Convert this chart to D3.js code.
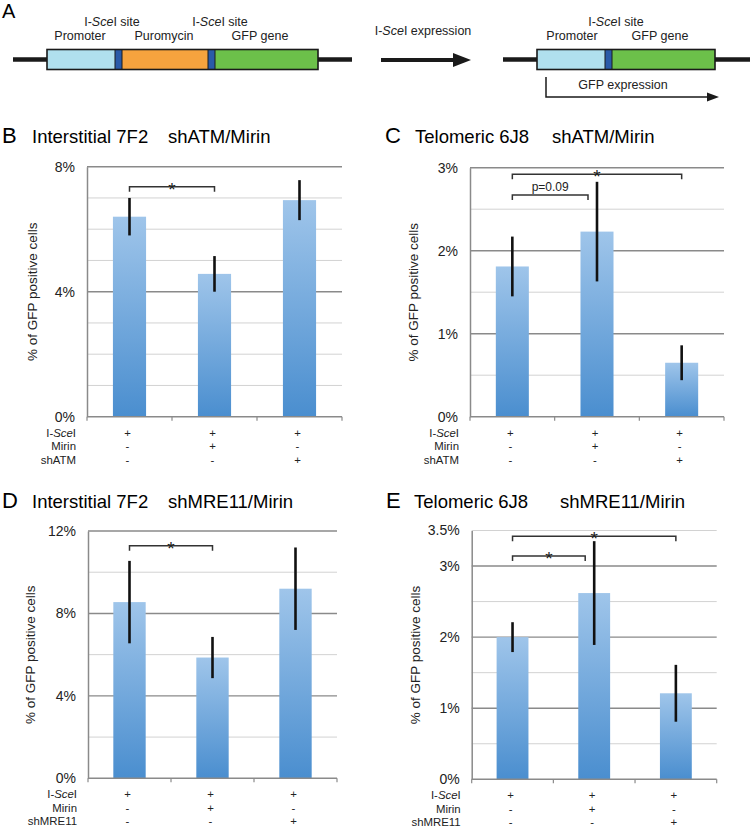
<!DOCTYPE html>
<html>
<head>
<meta charset="utf-8">
<script src="https://cdn.jsdelivr.net/npm/d3@7"></script>
<style>
  body { margin: 0; background: #fff; }
  svg { display: block; font-family: "Liberation Sans", Arial, sans-serif; }
</style>
</head>
<body>
<div id="figure"></div>
<script>
// conditions (same three in every panel)
const categories = ["control", "mirin", "knockdown"];
const signRows = [["+", "+", "+"], ["-", "+", "-"], ["-", "-", "+"]];
const rowLabelsATM = ["I-SceI", "Mirin", "shATM"];
const rowLabelsMRE = ["I-SceI", "Mirin", "shMRE11"];

// B: interstitial 7F2, shATM/Mirin
const valuesB = [6.4, 4.57, 6.93];
const errorsB = [0.6, 0.57, 0.64];
const ticksB = [0, 4, 8];
const gridB = [1, 2, 3, 4, 5, 6, 7, 8];
const bracketsB = [[0, 1, 7.36, "*"]];

// C: telomeric 6J8, shATM/Mirin
const valuesC = [1.81, 2.23, 0.65];
const errorsC = [0.36, 0.6, 0.21];
const ticksC = [0, 1, 2, 3];
const gridC = [0.5, 1, 1.5, 2, 2.5, 3];
const bracketsC = [[0, 1, 2.67, "p=0.09"], [0, 2, 2.92, "*"]];

// D: interstitial 7F2, shMRE11/Mirin
const valuesD = [8.55, 5.86, 9.2];
const errorsD = [2.0, 1.0, 2.0];
const ticksD = [0, 4, 8, 12];
const gridD = [2, 4, 6, 8, 10, 12];
const bracketsD = [[0, 1, 11.29, "*"]];

// E: telomeric 6J8, shMRE11/Mirin
const valuesE = [2.0, 2.62, 1.21];
const errorsE = [0.21, 0.73, 0.4];
const ticksE = [0, 1, 2, 3, 3.5];
const gridE = [0.5, 1, 1.5, 2, 2.5, 3, 3.5];
const bracketsE = [[0, 1, 3.14, "*"], [0, 2, 3.42, "*"]];

const W = 750, H = 834;
const svg = d3.select("#figure").append("svg")
  .attr("width", W).attr("height", H)
  .attr("viewBox", [0, 0, W, H]);

const defs = svg.append("defs");
const grad = defs.append("linearGradient")
  .attr("id", "barGrad").attr("x1", 0).attr("y1", 0).attr("x2", 0).attr("y2", 1);
grad.append("stop").attr("offset", "0%").attr("stop-color", "#9fc5ea");
grad.append("stop").attr("offset", "100%").attr("stop-color", "#4a8ecf");

// I-SceI with italic "Sce"
function sceLabel(sel, pre, post) {
  sel.append("tspan").text(pre + "I-");
  sel.append("tspan").attr("font-style", "italic").text("Sce");
  sel.append("tspan").text("I" + post);
}

// ---------- panel A: construct diagram ----------
const gA = svg.append("g");
gA.append("text").attr("x", 2).attr("y", 18).attr("font-size", 20).text("A");

const siteColor = "#2a5aa8";
function construct(x0, x1, lineL, lineR, parts) {
  gA.append("line").attr("x1", lineL).attr("x2", lineR).attr("y1", 59.5).attr("y2", 59.5)
    .attr("stroke", "#1a1a1a").attr("stroke-width", 4.5);
  parts.forEach(p => {
    gA.append("rect").attr("x", p[0]).attr("y", 49.5).attr("width", p[1] - p[0]).attr("height", 20)
      .attr("fill", p[2]).attr("stroke", "none");
  });
  gA.append("rect").attr("x", x0).attr("y", 49.5).attr("width", x1 - x0).attr("height", 20)
    .attr("fill", "none").attr("stroke", "#1a1a1a").attr("stroke-width", 1.6);
  parts.slice(0, -1).forEach(p => {
    gA.append("line").attr("x1", p[1]).attr("x2", p[1]).attr("y1", 49.5).attr("y2", 69.5)
      .attr("stroke", "#1a1a1a").attr("stroke-width", 1);
  });
}
construct(47, 318, 13, 352, [
  [47, 115, "#b0e0ee"], [115, 122, siteColor], [122, 208, "#f6a33e"],
  [208, 215, siteColor], [215, 318, "#6cc04a"]
]);
construct(537, 715, 503, 752, [
  [537, 605, "#b0e0ee"], [605, 612, siteColor], [612, 715, "#6cc04a"]
]);

const aText = (x, y, t) => gA.append("text").attr("x", x).attr("y", y)
  .attr("text-anchor", "middle").attr("font-size", 12.5).attr("fill", "#222");
sceLabel(aText(112, 26), "", " site");
sceLabel(aText(220, 26), "", " site");
aText(80, 40).text("Promoter");
aText(164, 40).text("Puromycin");
aText(260, 40).text("GFP gene");
sceLabel(aText(423, 35), "", " expression");
sceLabel(aText(616, 26), "", " site");
aText(572, 40).text("Promoter");
aText(660, 40).text("GFP gene");
aText(623, 89).text("GFP expression");

// big arrow
gA.append("line").attr("x1", 381).attr("x2", 456).attr("y1", 60).attr("y2", 60)
  .attr("stroke", "#1a1a1a").attr("stroke-width", 4);
gA.append("path").attr("d", "M453,53 L471,60 L453,67 Z").attr("fill", "#1a1a1a");
// GFP expression arrow
gA.append("path").attr("d", "M546,77 V97 H710").attr("fill", "none")
  .attr("stroke", "#1a1a1a").attr("stroke-width", 1.5);
gA.append("path").attr("d", "M707,92.5 L719,97 L707,101.5 Z").attr("fill", "#1a1a1a");

// ---------- bar panels ----------
const panels = [
  { letter: "B", title: "Interstitial 7F2", sub: "shATM/Mirin", values: valuesB, errors: errorsB,
    ticks: ticksB, grid: gridB, max: 8, rows: rowLabelsATM, brackets: bracketsB,
    left: 87, right: 342, top: 166.7, bottom: 416.7, titleY: 143, letterX: 2, titleX: 32, subX: 168, ylabX: 32 },
  { letter: "C", title: "Telomeric 6J8", sub: "shATM/Mirin", values: valuesC, errors: errorsC,
    ticks: ticksC, grid: gridC, max: 3, rows: rowLabelsATM, brackets: bracketsC,
    left: 470, right: 724, top: 167.7, bottom: 416.7, titleY: 143, letterX: 385, titleX: 415, subX: 552, ylabX: 413 },
  { letter: "D", title: "Interstitial 7F2", sub: "shMRE11/Mirin", values: valuesD, errors: errorsD,
    ticks: ticksD, grid: gridD, max: 12, rows: rowLabelsMRE, brackets: bracketsD,
    left: 88, right: 337, top: 531, bottom: 778.3, titleY: 508, letterX: 2, titleX: 32, subX: 168, ylabX: 30 },
  { letter: "E", title: "Telomeric 6J8", sub: "shMRE11/Mirin", values: valuesE, errors: errorsE,
    ticks: ticksE, grid: gridE, max: 3.5, rows: rowLabelsMRE, brackets: bracketsE,
    left: 471.7, right: 716.7, top: 530.5, bottom: 779.3, titleY: 508, letterX: 386, titleX: 414, subX: 560, ylabX: 415 }
];

panels.forEach(drawPanel);

function drawPanel(p) {
  const g = svg.append("g");

  g.append("text").attr("x", p.letterX).attr("y", p.titleY).attr("font-size", 22).text(p.letter);
  g.append("text").attr("x", p.titleX).attr("y", p.titleY).attr("font-size", 18.5).text(p.title);
  g.append("text").attr("x", p.subX).attr("y", p.titleY).attr("font-size", 18.5).text(p.sub);

  const x = d3.scaleBand().domain(categories).range([p.left, p.right]).paddingInner(0).paddingOuter(0);
  const y = d3.scaleLinear().domain([0, p.max]).range([p.bottom, p.top]);
  const barW = x.bandwidth() * 0.39;
  const cx = c => x(c) + x.bandwidth() / 2;

  // gridlines
  const major = d => p.ticks.includes(d) && d !== 3.5;
  g.selectAll(".grid").data(p.grid).enter().append("line")
    .attr("x1", p.left).attr("x2", p.right)
    .attr("y1", d => y(d)).attr("y2", d => y(d))
    .attr("stroke", d => major(d) ? "#8a8a8a" : "#d2d2d2")
    .attr("stroke-width", d => major(d) ? 1.4 : 1);

  // y axis
  const yAxis = d3.axisLeft(y).tickValues(p.ticks).tickSize(0).tickPadding(12)
    .tickFormat(d => d + "%");
  const ya = g.append("g").attr("transform", `translate(${p.left},0)`).call(yAxis);
  ya.select(".domain").attr("stroke", "#8a8a8a").attr("stroke-width", 1.5);
  ya.selectAll("text").attr("font-size", 14).attr("fill", "#222")
    .attr("font-family", "Liberation Sans, Arial, sans-serif");

  // y label
  g.append("text")
    .attr("transform", `translate(${p.ylabX},${(p.top + p.bottom) / 2}) rotate(-90)`)
    .attr("text-anchor", "middle").attr("dominant-baseline", "central")
    .attr("font-size", 13.5).attr("fill", "#222")
    .text("% of GFP positive cells");

  // bars
  g.selectAll(".bar").data(p.values).enter().append("rect")
    .attr("x", (d, i) => cx(categories[i]) - barW / 2)
    .attr("y", d => y(d))
    .attr("width", barW)
    .attr("height", d => y(0) - y(d))
    .attr("fill", "url(#barGrad)");

  // x axis line with boundary ticks
  const xa = g.append("g");
  xa.append("line").attr("x1", p.left).attr("x2", p.right).attr("y1", y(0)).attr("y2", y(0))
    .attr("stroke", "#8a8a8a").attr("stroke-width", 1.5);
  const bounds = categories.map(c => x(c)).concat([p.right]);
  xa.selectAll(".xt").data(bounds).enter().append("line")
    .attr("x1", d => d).attr("x2", d => d).attr("y1", y(0)).attr("y2", y(0) + 4)
    .attr("stroke", "#8a8a8a").attr("stroke-width", 1.2);

  // error bars
  g.selectAll(".err").data(p.values).enter().append("line")
    .attr("x1", (d, i) => cx(categories[i])).attr("x2", (d, i) => cx(categories[i]))
    .attr("y1", (d, i) => y(d + p.errors[i])).attr("y2", (d, i) => y(d - p.errors[i]))
    .attr("stroke", "#111").attr("stroke-width", 2.6);

  // significance brackets
  p.brackets.forEach(b => {
    const x1 = cx(categories[b[0]]);
    let x2 = cx(categories[b[1]]);
    // stop short when the target error bar reaches above the bracket
    if (p.values[b[1]] + p.errors[b[1]] > b[2]) x2 -= 9;
    const by = y(b[2]);
    g.append("path").attr("d", `M${x1},${by + 5} V${by} H${x2} V${by + 5}`)
      .attr("fill", "none").attr("stroke", "#333").attr("stroke-width", 1.5);
    const star = b[3] === "*";
    g.append("text").attr("x", (x1 + x2) / 2).attr("y", star ? by + 9 : by - 4)
      .attr("text-anchor", "middle").attr("font-size", star ? 19 : 12).attr("fill", "#222")
      .text(b[3]);
  });

  // condition table
  const rowOffsets = [20, 33.5, 47];
  p.rows.forEach((lab, r) => {
    const t = g.append("text").attr("x", p.left - 11).attr("y", y(0) + rowOffsets[r])
      .attr("text-anchor", "end").attr("font-size", 11.4).attr("fill", "#222");
    if (r === 0) sceLabel(t, "", ""); else t.text(lab);
    signRows[r].forEach((s, i) => {
      g.append("text").attr("x", cx(categories[i]) - 2).attr("y", y(0) + rowOffsets[r])
        .attr("text-anchor", "middle").attr("font-size", 11.4).attr("fill", "#222").text(s);
    });
  });
}
</script>
</body>
</html>
